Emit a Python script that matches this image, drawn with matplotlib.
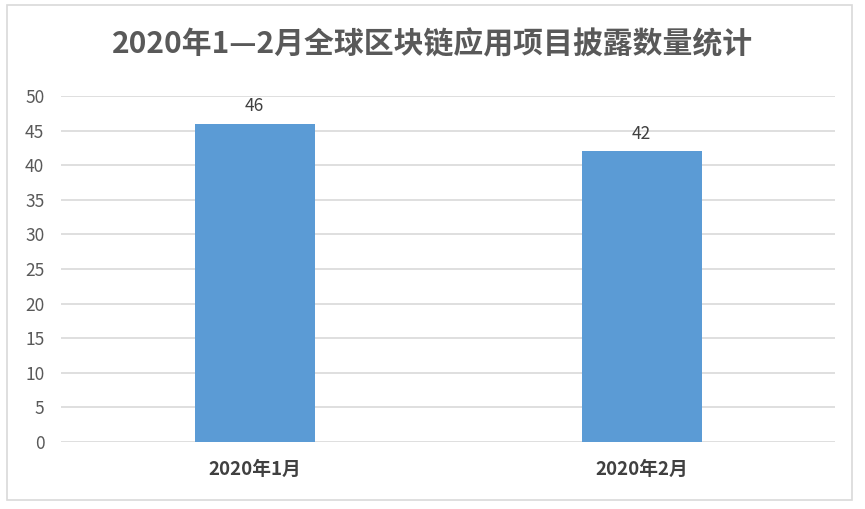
import matplotlib.pyplot as plt
from matplotlib.patches import Rectangle

plt.rcParams['font.family'] = ['Noto Sans CJK SC', 'DejaVu Sans']

months = ['2020年1月', '2020年2月']
counts = [46, 42]
yticks = list(range(0, 55, 5))

fig = plt.figure(figsize=(8.65, 5.09), dpi=100)
ax = fig.add_axes([0.0705, 0.1316, 0.895, 0.6798])

x = range(len(months))
ax.bar(x, counts, width=0.31, color='#5B9BD5', zorder=3)
for i, v in zip(x, counts):
    ax.text(i, v + 1.2, str(v), ha='center', va='bottom', fontsize=12.5, color='#404040')

ax.set_xlim(-0.5, 1.5)
ax.set_ylim(0, 50)
ax.set_yticks(yticks)
ax.set_yticklabels([str(t) for t in yticks], fontsize=12.5, color='#595959')
ax.set_xticks(list(x))
ax.set_xticklabels(months, fontsize=13.5, fontweight='bold', color='#404040')
ax.tick_params(axis='both', length=0)
ax.tick_params(axis='x', pad=13)
ax.tick_params(axis='y', pad=12)
ax.grid(axis='y', color='#D9D9D9', linewidth=1.2, zorder=0)
for s in ax.spines.values():
    s.set_visible(False)

fig.text(0.5, 0.912, '2020年1—2月全球区块链应用项目披露数量统计', ha='center', va='center',
         fontsize=21.5, fontweight='bold', color='#595959')

fig.patches.append(Rectangle((0.008, 0.018), 0.977, 0.972, transform=fig.transFigure,
                             fill=False, edgecolor='#D9D9D9', linewidth=1.2))

fig.savefig('out.png', dpi=100)
